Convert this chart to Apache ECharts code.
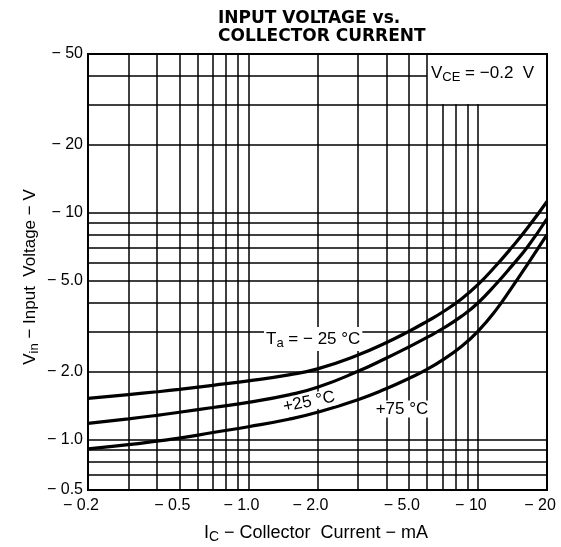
<!DOCTYPE html>
<html><head><meta charset="utf-8">
<script src="https://cdn.jsdelivr.net/npm/echarts@6/dist/echarts.min.js"></script>
<style>html,body{margin:0;padding:0;background:#fff}#c{width:561px;height:547px}</style>
</head><body><div id="c"></div>
<script>
// Collector current (mA, magnitude) sample points
const currentMA = [0.2,0.3,0.4,0.5,0.7,1,1.5,2,3,4,5,6,7,8.5,10,12,14,16.5,20];
// Input voltage (V, magnitude) for each ambient temperature
const vinMinus25 = [1.52,1.58,1.625,1.665,1.735,1.815,1.93,2.05,2.36,2.68,3.0,3.32,3.64,4.18,4.82,5.85,7.0,8.6,11.2];
const vinPlus25  = [1.18,1.235,1.28,1.32,1.385,1.46,1.575,1.70,2.0,2.29,2.56,2.82,3.08,3.5,4.0,4.85,5.8,7.1,9.4];
const vinPlus75  = [0.91,0.95,0.985,1.015,1.075,1.14,1.23,1.32,1.5,1.68,1.86,2.04,2.24,2.58,3.0,3.73,4.65,5.95,8.0];

// Axis ranges and tick labels
const xRange = [0.2, 20];
const yRange = [0.6, 50];
const xTickValues = [0.2, 0.5, 1, 2, 5, 10, 20];
const xTickLabels = ['− 0.2','− 0.5','− 1.0','− 2.0','− 5.0','− 10','− 20'];
const yTickValues = [0.6, 1, 2, 5, 10, 20, 50];
const yTickLabels = ['− 0.5','− 1.0','− 2.0','− 5.0','− 10','− 20','− 50'];

// Grid lines of the chart paper
const xGridFull = [0.3,0.4,0.5,0.6,0.7,0.8,0.9,1,2,3,4,5,6];
const xGridBelowBox = [7,8,9,10];
const yGridFull = [0.7,0.8,0.9,1,2,3,4,5,6,7,8,9,10,20,30];
const yGridLeftOfBox = [40];
const boxCorner = [6, 30]; // VCE note box spans from here to the upper-right corner

const lines = [];
xGridFull.forEach(x => lines.push([{coord:[x, yRange[0]]},{coord:[x, yRange[1]]}]));
xGridBelowBox.forEach(x => lines.push([{coord:[x, yRange[0]]},{coord:[x, boxCorner[1]]}]));
yGridFull.forEach(y => lines.push([{coord:[xRange[0], y]},{coord:[xRange[1], y]}]));
yGridLeftOfBox.forEach(y => lines.push([{coord:[xRange[0], y]},{coord:[boxCorner[0], y]}]));

function zip(xs, ys) { return xs.map((x, i) => [x, ys[i]]); }

const chart = echarts.init(document.getElementById('c'), null, {renderer:'canvas'});
const curveStyle = {color:'#000', width:3.2};
const fontFam = '"Liberation Sans", Arial, sans-serif';
const mainRich = (size) => ({
  m: {fontSize: size, fontFamily: fontFam, fill: '#000'},
  s: {fontSize: size - 4, fontFamily: fontFam, padding: [9,0,0,0], fill: '#000'}
});
chart.setOption({
  animation: false,
  backgroundColor: '#fff',
  grid: {left: 88, right: 14, top: 54, bottom: 57, show: true, borderColor: '#000', borderWidth: 2, backgroundColor: 'transparent'},
  xAxis: {
    type: 'log', logBase: 10, min: xRange[0], max: xRange[1],
    axisLine: {show: false}, axisTick: {show: false}, splitLine: {show: false}, minorSplitLine:{show:false},
    axisLabel: {
      customValues: xTickValues,
      formatter: v => { const i = xTickValues.findIndex(t => Math.abs(t - v) < 1e-6); return i >= 0 ? xTickLabels[i] : ''; },
      color: '#000', fontSize: 16, fontFamily: fontFam, margin: 8, padding: [0, 14, 0, 0], showMinLabel: true, showMaxLabel: true
    }
  },
  yAxis: {
    type: 'log', logBase: 10, min: yRange[0], max: yRange[1],
    axisLine: {show: false}, axisTick: {show: false}, splitLine: {show: false},
    axisLabel: {
      customValues: yTickValues,
      formatter: v => { const i = yTickValues.findIndex(t => Math.abs(t - v) < 1e-6); return i >= 0 ? yTickLabels[i] : ''; },
      color: '#000', fontSize: 16, fontFamily: fontFam, margin: 5, showMinLabel: true, showMaxLabel: true
    }
  },
  series: [
    {type: 'line', data: [], z: 1, silent: true,
     markLine: {silent: true, symbol: ['none','none'], label: {show: false}, animation: false,
       lineStyle: {color: '#000', width: 1.5, type: 'solid'}, emphasis:{disabled:true}, data: lines}},
    {name: '-25', type: 'line', data: zip(currentMA, vinMinus25), showSymbol: false, smooth: 0.5, lineStyle: curveStyle, z: 5},
    {name: '+25', type: 'line', data: zip(currentMA, vinPlus25), showSymbol: false, smooth: 0.5, lineStyle: curveStyle, z: 5},
    {name: '+75', type: 'line', data: zip(currentMA, vinPlus75), showSymbol: false, smooth: 0.5, lineStyle: curveStyle, z: 5}
  ],
  graphic: [
    {type: 'text', left: 218, top: 10, z: 100, style: {text: 'INPUT VOLTAGE vs.', font: 'bold 17px "DejaVu Sans", sans-serif', fill: '#000'}},
    {type: 'text', left: 218, top: 28, z: 100, style: {text: 'COLLECTOR CURRENT', font: 'bold 17px "DejaVu Sans", sans-serif', fill: '#000'}},
    {type: 'text', x: 431, y: 73, z: 100, style: {
      text: '{m|V}{s|CE}{m| = −0.2  V}', verticalAlign: 'middle', align: 'left', rich: mainRich(17)}},
    {type: 'text', x: 264, y: 339, z: 100, style: {
      text: '{m|T}{s|a}{m| = − 25 °C}', verticalAlign: 'middle', align: 'left', backgroundColor: '#fff', padding: [1,2,1,2],
      rich: mainRich(17)}},
    {type: 'text', x: 309, y: 402, rotation: 0.2, z: 100, style: {
      text: '+25 °C', align: 'center', verticalAlign: 'middle', backgroundColor: '#fff', padding: [0,2,0,2],
      font: '17px ' + fontFam, fill: '#000'}},
    {type: 'text', x: 402, y: 409, z: 100, style: {
      text: '+75 °C', align: 'center', verticalAlign: 'middle', backgroundColor: '#fff', padding: [0,2,0,2],
      font: '17px ' + fontFam, fill: '#000'}},
    {type: 'text', x: 316, y: 533, z: 100, style: {
      text: '{m|I}{s|C}{m| − Collector  Current − mA}', align: 'center', verticalAlign: 'middle', rich: mainRich(18)}},
    {type: 'text', x: 30, y: 277, rotation: Math.PI / 2, z: 100, style: {
      text: '{m|V}{s|in}{m| − Input  Voltage − V}', align: 'center', verticalAlign: 'middle', rich: mainRich(17)}}
  ]
});
</script>
</body></html>
